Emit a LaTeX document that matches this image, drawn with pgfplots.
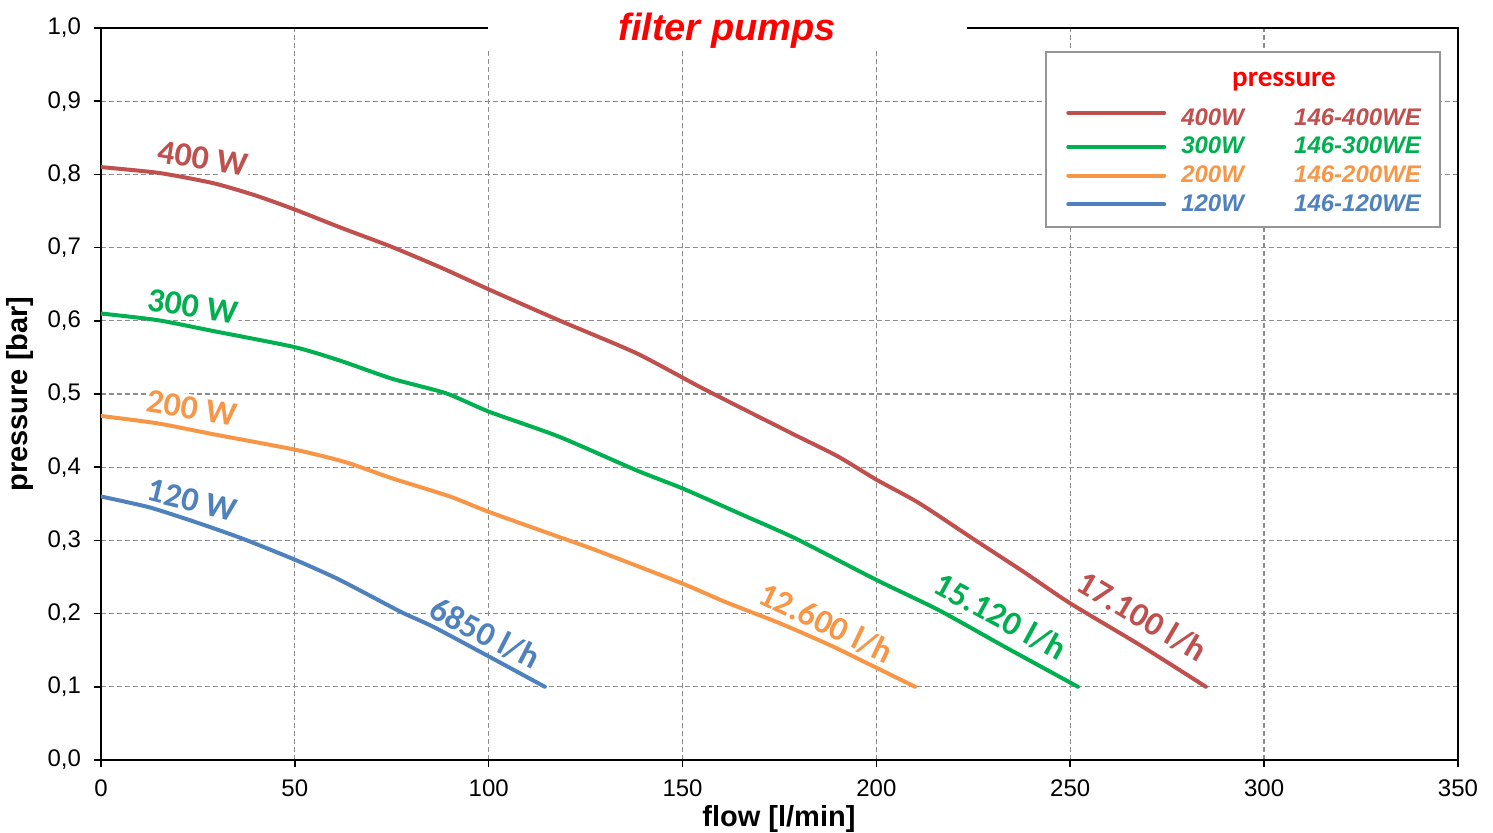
\documentclass[border=0pt]{standalone}
\usepackage{pgfplots}
\pgfplotsset{compat=1.18}
\usepackage{fontspec}
\setmainfont{Liberation Sans}
\newfontfamily\calib{Carlito}

\definecolor{cRed}{HTML}{C0504D}
\definecolor{cGreen}{HTML}{00B050}
\definecolor{cOrange}{HTML}{F79646}
\definecolor{cBlue}{HTML}{4F81BD}
\definecolor{gridgray}{HTML}{8C8C8C}
\definecolor{boxgray}{HTML}{969696}

% curve labels
\tikzset{curvelbl/.style={font=\calib\bfseries\fontsize{17}{20}\selectfont, fill=white, inner sep=1pt}}
% legend text: colour, power, type
\newcommand{\lgd}[3]{\hspace*{5.5pt}\textcolor{#1}{\makebox[56.5pt][l]{#2}#3}\hspace*{-2.5pt}}

\begin{document}
\begin{tikzpicture}
\begin{axis}[
  scale only axis, width=678.5pt, height=366pt,
  xmin=0, xmax=350, ymin=0, ymax=1,
  xtick={0,50,...,350}, ytick={0,0.1,...,1.0},
  grid=major,
  grid style={gridgray, dash pattern=on 2.4pt off 1.6pt, line width=0.6pt},
  axis line style={black, line width=1pt},
  tick style={black, line width=0.8pt},
  tick pos=left, tick align=outside, major tick length=3.5pt,
  /pgf/number format/assume math mode=true,
  ticklabel style={font=\fontsize{12}{14}\selectfont},
  xticklabel style={yshift=-3pt},
  yticklabel style={xshift=-3pt, /pgf/number format/fixed, /pgf/number format/fixed zerofill,
    /pgf/number format/precision=1, /pgf/number format/use comma},
  xlabel={flow [l/min]}, ylabel={pressure [bar]},
  label style={font=\bfseries\fontsize{14.5}{16}\selectfont},
  xlabel style={at={(axis description cs:0.4996,-0.0800)}, anchor=center},
  ylabel style={at={(axis description cs:-0.0597,0.5)}, anchor=center},
  every axis plot/.append style={line width=2pt, line join=round, line cap=round, smooth, tension=0.4},
  legend style={at={(0.9875,0.9686)}, anchor=north east, draw=boxgray, line width=1pt,
    fill=white, font=\bfseries\itshape\fontsize{12}{14}\selectfont,
    inner xsep=10pt, inner ysep=4.5pt, row sep=0.5pt},
  legend cell align=left,
  legend image code/.code={\draw[#1] (0pt,0pt) -- (48pt,0pt);},
]

\node[curvelbl, text=cRed, rotate=-9] at (axis cs:26.3,0.822) {400 W};
\node[curvelbl, text=cGreen, rotate=-9] at (axis cs:23.7,0.620) {300 W};
\node[curvelbl, text=cOrange, rotate=-9] at (axis cs:23.5,0.481) {200 W};
\node[curvelbl, text=cBlue, rotate=-14] at (axis cs:23.5,0.355) {120 W};
\node[curvelbl, text=cBlue, rotate=-27] at (axis cs:99.0,0.173) {6850 l/h};
\node[curvelbl, text=cOrange, rotate=-25.5] at (axis cs:187.0,0.187) {12.600 l/h};
\node[curvelbl, text=cGreen, rotate=-28.5] at (axis cs:231.9,0.196) {15.120 l/h};
\node[curvelbl, text=cRed, rotate=-30.5] at (axis cs:268.5,0.196) {17.100 l/h};

\addlegendimage{empty legend}
\addlegendentry{\rule{0pt}{10.5pt}\hspace*{31pt}\textcolor{red}{\calib\upshape\fontsize{14.5}{16}\selectfont pressure}}

\addplot[cRed] coordinates {
  (0,0.810) (15,0.802) (29,0.788) (40,0.771) (50,0.752) (62,0.727) (75,0.701)
  (88,0.672) (100,0.643) (118,0.601) (138,0.556) (154,0.511) (167,0.476)
  (179,0.444) (190,0.415) (200,0.383) (211,0.351) (225,0.302) (238,0.257)
  (250,0.214) (268,0.157) (285,0.100)};
\addlegendentry{\rule{0pt}{13.5pt}\lgd{cRed}{400W}{146-400WE}}

\addplot[cGreen] coordinates {
  (0,0.610) (14.5,0.601) (29,0.586) (50,0.564) (62,0.545) (75,0.521) (89,0.501)
  (100,0.476) (118,0.442) (138,0.396) (150,0.371) (165,0.336) (179,0.303)
  (200,0.246) (216,0.205) (234,0.152) (252,0.100)};
\addlegendentry{\lgd{cGreen}{300W}{146-300WE}}

\addplot[cOrange] coordinates {
  (0,0.470) (14.5,0.460) (29,0.445) (50,0.424) (63,0.407) (75,0.385) (90,0.360)
  (100,0.339) (118,0.305) (128,0.286) (150,0.241) (161,0.216) (175,0.187)
  (188,0.157) (200,0.126) (210,0.100)};
\addlegendentry{\lgd{cOrange}{200W}{146-200WE}}

\addplot[cBlue] coordinates {
  (0,0.360) (12.6,0.345) (25.5,0.323) (36.7,0.302) (50.3,0.273) (61.6,0.246)
  (77.1,0.203) (85.7,0.182) (100.2,0.141) (114.5,0.100)};
\addlegendentry{\lgd{cBlue}{120W}{146-120WE}}

\coordinate (ttl) at (axis cs:161.5,1.0);
\coordinate (bl) at (axis cs:-26.05,-0.0984);
\coordinate (tr) at (axis cs:359.05,1.0383);
\end{axis}
\node[fill=white, minimum width=239.5pt, minimum height=19pt, inner sep=0pt, yshift=-1.5pt,
  text=red, font=\bfseries\itshape\fontsize{19}{21}\selectfont] at (ttl) {filter pumps};
\pgfresetboundingbox
\path (bl) rectangle (tr);
\end{tikzpicture}
\end{document}
